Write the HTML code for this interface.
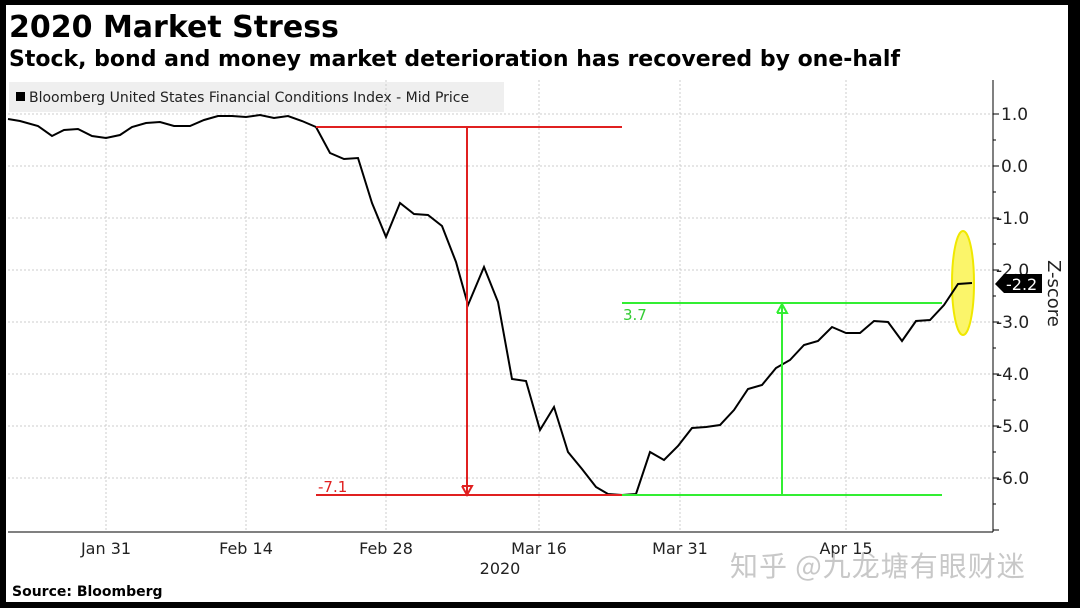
<!DOCTYPE html>
<html><head><meta charset="utf-8"><style>
body{margin:0;background:#000;}
svg{display:block;}
</style></head><body>
<svg width="1080" height="608" xmlns="http://www.w3.org/2000/svg" font-family="'DejaVu Sans', 'Liberation Sans', sans-serif">
<rect x="0" y="0" width="1080" height="608" fill="#000"/>
<rect x="6" y="5" width="1062" height="597" fill="#fff"/>
<text x="9" y="37" font-size="30" font-weight="bold" fill="#000">2020 Market Stress</text>
<text x="9" y="66" font-size="22" font-weight="bold" fill="#000">Stock, bond and money market deterioration has recovered by one-half</text>
<rect x="9" y="82" width="495" height="30" fill="#efefef"/>
<rect x="16" y="92" width="9" height="9" fill="#000"/>
<text x="29" y="102" font-size="14" fill="#222">Bloomberg United States Financial Conditions Index - Mid Price</text>
<g stroke="#ccc" stroke-dasharray="2,2" stroke-width="1">
<line x1="8" y1="114" x2="993" y2="114"/><line x1="8" y1="166" x2="993" y2="166"/>
<line x1="8" y1="218" x2="993" y2="218"/><line x1="8" y1="270" x2="993" y2="270"/>
<line x1="8" y1="322" x2="993" y2="322"/><line x1="8" y1="374" x2="993" y2="374"/>
<line x1="8" y1="426" x2="993" y2="426"/><line x1="8" y1="478" x2="993" y2="478"/>
<line x1="106" y1="112" x2="106" y2="532"/><line x1="246" y1="112" x2="246" y2="532"/>
<line x1="386" y1="80" x2="386" y2="532"/><line x1="539" y1="80" x2="539" y2="532"/>
<line x1="680" y1="80" x2="680" y2="532"/><line x1="846" y1="80" x2="846" y2="532"/>
</g>
<line x1="8" y1="532" x2="993" y2="532" stroke="#000" stroke-width="1"/>
<line x1="993" y1="80" x2="993" y2="532" stroke="#000" stroke-width="1"/>
<g stroke="#000" stroke-width="1">
<line x1="993" y1="114" x2="999" y2="114"/><line x1="993" y1="166" x2="999" y2="166"/><line x1="993" y1="218" x2="999" y2="218"/><line x1="993" y1="270" x2="999" y2="270"/><line x1="993" y1="322" x2="999" y2="322"/><line x1="993" y1="374" x2="999" y2="374"/><line x1="993" y1="426" x2="999" y2="426"/><line x1="993" y1="478" x2="999" y2="478"/><line x1="993" y1="530" x2="999" y2="530"/>
<line x1="993" y1="140" x2="996" y2="140"/><line x1="993" y1="192" x2="996" y2="192"/><line x1="993" y1="244" x2="996" y2="244"/><line x1="993" y1="296" x2="996" y2="296"/><line x1="993" y1="348" x2="996" y2="348"/><line x1="993" y1="400" x2="996" y2="400"/><line x1="993" y1="452" x2="996" y2="452"/><line x1="993" y1="504" x2="996" y2="504"/>
</g>
<g font-size="17" fill="#222">
<text x="1001" y="120">1.0</text><text x="1001" y="172">0.0</text><text x="996" y="224">-1.0</text><text x="996" y="276">-2.0</text><text x="996" y="328">-3.0</text><text x="996" y="380">-4.0</text><text x="996" y="432">-5.0</text><text x="996" y="484">-6.0</text>
</g>
<polygon points="995,284 1004,274 1042,274 1042,293 1004,293" fill="#000"/>
<text x="1006" y="290" font-size="16" fill="#fff">-2.2</text>
<text transform="translate(1048,260) rotate(90)" font-size="18" fill="#222">Z-score</text>
<g font-size="16" fill="#222" text-anchor="middle">
<text x="106" y="554">Jan 31</text><text x="246" y="554">Feb 14</text><text x="386" y="554">Feb 28</text><text x="539" y="554">Mar 16</text><text x="680" y="554">Mar 31</text><text x="846" y="554">Apr 15</text><text x="500" y="574">2020</text>
</g>
<text x="730" y="576" font-size="28" letter-spacing="1" fill="#bbb" font-family="'Noto Sans CJK SC', sans-serif" opacity="0.8">知乎 @九龙塘有眼财迷</text>
<text x="12" y="596" font-size="14" font-weight="bold" fill="#000">Source: Bloomberg</text>
<ellipse cx="963" cy="283" rx="11" ry="52" fill="#fbf56a" stroke="#f0e800" stroke-width="2"/>
<polyline fill="none" stroke="#000" stroke-width="2" points="8,119 20,121 38,126 52,136 64,130 78,129 92,136 106,138 120,135 132,127 146,123 160,122 174,126 190,126 204,120 218,116 232,116 246,117 260,115 274,118 288,116 302,121 316,127 330,153 344,159 358,158 372,203 386,237 400,203 414,214 428,215 442,226 456,262 468,305 484,267 498,302 512,379 526,381 540,430 554,407 568,452 582,469 596,487 608,494 622,495 636,494 650,452 664,460 678,446 692,428 706,427 720,425 734,410 748,389 762,385 776,368 790,360 804,345 818,341 832,327 846,333 860,333 874,321 888,322 902,341 916,321 930,320 944,305 958,284 972,283"/>
<g stroke="#e02020" stroke-width="2" fill="none">
<line x1="316" y1="127" x2="622" y2="127"/><line x1="316" y1="495" x2="622" y2="495"/>
<line x1="467" y1="127" x2="467" y2="494"/>
<polyline points="462,486 467,495 472,486 462,486"/>
</g>
<text x="318" y="492" font-size="15" fill="#e02020">-7.1</text>
<g stroke="#33ee33" stroke-width="2" fill="none">
<line x1="622" y1="303" x2="942" y2="303"/><line x1="622" y1="495" x2="942" y2="495"/>
<line x1="782" y1="304" x2="782" y2="495"/>
<polyline points="777,313 782,304 787,313 777,313"/>
</g>
<text x="623" y="320" font-size="15" fill="#33cc33">3.7</text>
</svg>
</body></html>
